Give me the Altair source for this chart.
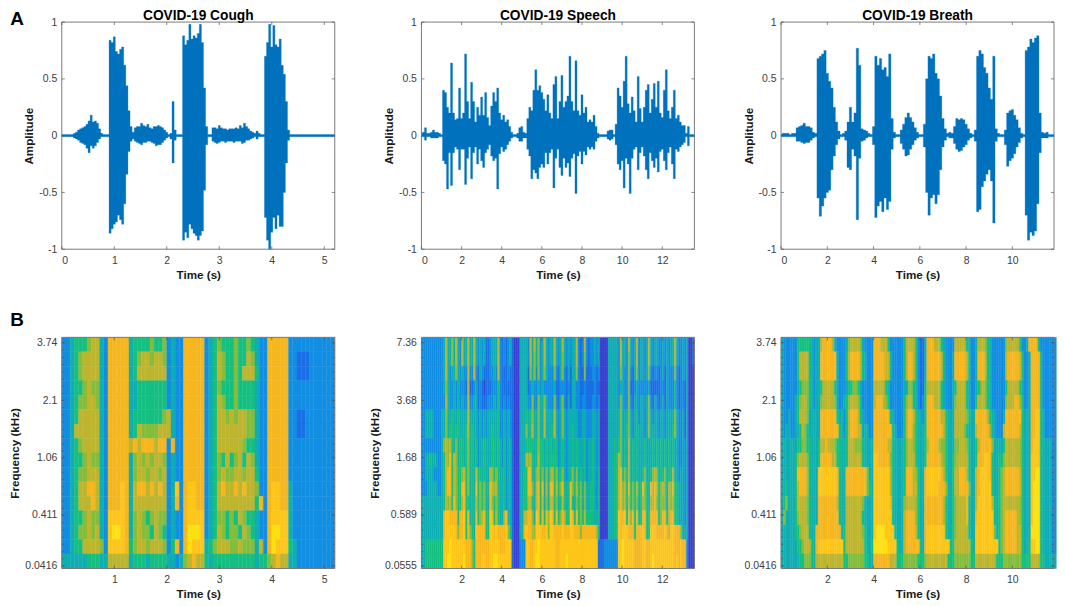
import altair as alt
import pandas as pd

FONT = "Liberation Sans"
BLUE = "#0072bd"
GREY = "#7a7a7a"

# waveform envelopes, in hundredths of full scale
cough_up = [1, 1, 1, 1, 1, 1, 2, 3, 5, 6, 7, 8, 10, 13, 18, 12, 13, 11, 6, 2, 1, 1, 1,
            84, 82, 87, 74, 72, 76, 78, 62, 44, 22, 8, 3, 7, 8, 8, 11, 9, 8, 10, 7, 6, 8, 8, 9, 8, 7, 5, 3, 1, 2, 30, 5, 1, 1, 1,
            88, 80, 84, 98, 85, 88, 86, 90, 98, 82, 42, 8, 1, 1, 7, 7, 6, 9, 7, 6, 6, 5, 6, 6, 6, 7, 6, 9, 7, 11, 8, 6, 4, 3, 2, 4, 2, 1, 1,
            70, 82, 98, 78, 97, 80, 78, 85, 62, 54, 30, 5, 1,
            1, 1, 1, 1, 1, 1, 1, 1, 1, 1, 1, 1, 1, 1, 1, 1, 1, 1, 1, 1, 1]
cough_low = [1, 1, 1, 1, 1, 1, 2, 3, 4, 6, 7, 8, 11, 15, 9, 11, 9, 6, 3, 1, 1, 1, 1,
             86, 82, 78, 76, 70, 74, 78, 60, 34, 14, 5, 3, 5, 6, 7, 8, 6, 6, 5, 5, 6, 7, 9, 8, 8, 6, 4, 2, 1, 3, 24, 4, 1, 1, 1,
             92, 85, 90, 78, 82, 86, 88, 92, 88, 84, 48, 8, 1, 1, 5, 6, 7, 6, 5, 5, 6, 5, 5, 5, 6, 5, 5, 5, 7, 6, 4, 4, 3, 2, 1, 3, 1, 1, 1,
             72, 92, 100, 85, 72, 82, 70, 80, 80, 50, 24, 4, 1,
             1, 1, 1, 1, 1, 1, 1, 1, 1, 1, 1, 1, 1, 1, 1, 1, 1, 1, 1, 1, 1]
speech_up = [2, 3, 7, 2, 2, 3, 5, 3, 3, 2, 1, 40, 38, 25, 20, 64, 20, 14, 15, 42, 15, 20, 72, 30, 15, 47, 30, 12, 25, 18,
             34, 18, 38, 16, 9, 26, 38, 30, 42, 20, 14, 18, 12, 14, 8, 3, 1, 1, 2, 7, 8, 3, 2, 15, 25, 22, 40, 58, 40, 44,
             38, 32, 22, 36, 20, 15, 45, 52, 15, 30, 53, 25, 30, 35, 70, 30, 22, 66, 22, 18, 36, 20, 25, 12, 14, 12, 18, 8, 2, 1,
             1, 1, 1, 4, 5, 5, 1, 10, 42, 35, 25, 48, 70, 28, 20, 34, 22, 12, 52, 24, 12, 25, 40, 45, 20, 32, 46, 25, 48, 20,
             16, 40, 58, 22, 15, 25, 40, 15, 18, 12, 9, 9, 2, 8, 1, 1, 1]
speech_low = [1, 1, 4, 1, 1, 2, 2, 2, 2, 1, 1, 22, 25, 47, 15, 44, 15, 10, 12, 30, 12, 12, 43, 20, 10, 38, 15, 10, 25, 12,
              22, 28, 15, 12, 8, 18, 22, 20, 47, 16, 10, 14, 12, 8, 5, 2, 1, 1, 2, 5, 5, 2, 2, 12, 18, 38, 30, 33, 38, 28,
              25, 28, 15, 25, 15, 12, 46, 20, 12, 28, 35, 20, 28, 24, 36, 20, 16, 51, 18, 14, 25, 14, 17, 10, 12, 10, 12, 5, 2, 1,
              1, 1, 1, 3, 4, 3, 1, 8, 25, 30, 22, 46, 20, 25, 51, 20, 12, 10, 30, 15, 10, 18, 30, 38, 15, 22, 28, 20, 32, 14,
              12, 22, 30, 15, 10, 25, 38, 12, 14, 10, 8, 6, 1, 9, 1, 1, 1]
breath_up = [1, 2, 2, 2, 1, 2, 2, 7, 8, 9, 11, 8, 8, 7, 3, 2, 68, 70, 72, 75, 55, 48, 42, 25, 12, 4, 1, 2, 4, 12,
             25, 12, 20, 77, 62, 6, 5, 4, 2, 1, 8, 70, 62, 68, 58, 60, 52, 72, 15, 3, 1, 1, 5, 10, 16, 20, 16, 12, 7, 3,
             1, 1, 10, 50, 70, 68, 72, 55, 50, 35, 15, 6, 2, 3, 2, 8, 15, 14, 15, 14, 10, 6, 2, 1, 5, 70, 75, 72, 60, 55,
             42, 32, 70, 6, 2, 1, 1, 5, 20, 22, 23, 18, 14, 7, 2, 1, 75, 78, 85, 82, 86, 88, 20, 3, 2, 3, 1, 1, 1]
breath_low = [1, 1, 1, 1, 1, 1, 1, 5, 5, 6, 7, 6, 6, 4, 2, 1, 55, 71, 62, 55, 50, 48, 30, 18, 8, 3, 1, 1, 4, 28,
              30, 12, 18, 74, 20, 5, 4, 2, 1, 1, 8, 72, 62, 58, 67, 55, 65, 58, 12, 2, 1, 1, 7, 12, 18, 17, 12, 8, 4, 2,
              1, 1, 10, 50, 70, 55, 52, 60, 52, 30, 10, 4, 1, 2, 2, 7, 12, 14, 13, 10, 8, 4, 2, 1, 5, 67, 65, 45, 40, 34,
              30, 40, 77, 5, 1, 1, 1, 8, 27, 22, 20, 16, 10, 6, 2, 1, 70, 92, 85, 88, 84, 60, 15, 2, 2, 2, 1, 1, 1]

# spectrogram levels, one string per frequency row from top to bottom, one digit per time step
cough_rows = [
    "2234445663 2777773444 4544523227 7777234544 4544543227 7777222222 22222",
    "2234566663 2777773456 6566523227 7777234654 4544653227 7777221112 22222",
    "2234566663 2777773466 6666623227 7777234654 4546664227 7777221112 22222",
    "2234456553 2777773344 4444423227 7777234544 4544443227 7777222222 22222",
    "2234556653 2777773344 4444423227 7777234654 4544443227 7777222222 22222",
    "2234666663 2777773444 4444563227 7777234665 6566553227 7777221122 22222",
    "2236666663 2777773465 5556663227 7777234666 6666553227 7777221122 22222",
    "2234566663 2777776767 7767727227 7777234666 6665443227 7777222222 22222",
    "2234456553 2777773565 6566523227 7777234546 4564653227 7777222222 22222",
    "2234556663 2777773566 5665623227 7777234565 5665664227 7777222222 22222",
    "2234667763 2777873677 6767623827 8877234676 6767665227 8877322222 22222",
    "2234666763 2777873666 6666623727 8877234666 6666664727 8877322222 22222",
    "2234456553 2888873565 4565523227 8888234554 5465443227 8888322222 22222",
    "2234556563 2899873565 5465423227 9998234654 5546543227 9988322222 22222",
    "2234466665 2888874566 5666524727 9888345666 5565553627 9888432222 22222",
    "3333334443 3666663444 3444433235 6766434444 4444443445 6766332222 22222",
]
speech_rows = [
    "2222222222 2363353632 6336336323 2311233362 1212310003 3332636352 3632336323 6323233621 2621223230 0003333326 3326323623 3236323322 3232336322 323001",
    "2222222222 2363353632 6336336323 2311233362 1212310003 3332635352 3632336323 5323233621 2521223230 0003333326 3325323623 3236323322 3232336322 323001",
    "2222222222 2363233532 3226226213 2111223262 1112110003 3331535252 3532225213 5213133521 1511122120 0003333325 3225213523 3235212212 3132225212 323000",
    "2222222222 2353223232 2216112312 1011122242 1111110003 3331232232 3222223112 2212133221 1211112110 0003333323 3225112322 2223111112 2132224212 213000",
    "2222222222 2263223232 3226223312 1112223242 1212110003 3332252253 3532225213 5213133221 2211122120 0003333325 3225213323 3235213212 3132224212 213000",
    "2233332222 3353343343 3336333323 2323333342 2323210003 3343453353 3633336323 5323333322 3322233230 0003333335 3335323423 3235323323 3233335322 313000",
    "2233332222 3353443443 3346343323 2323343342 2323210003 3353463353 3633346323 5323343322 3322233230 0003333335 3345323433 3235333323 3233345322 313000",
    "2222222222 3565643534 4345343423 3433344343 2423310003 3344443454 4343434423 4323343433 3423343230 0003334345 3436343433 3433343434 3434343322 323000",
    "2233433322 3465746534 4345343423 3433344343 2423310003 3365643464 4343444423 4323343433 3423343230 0003334465 3436343433 3433343434 3434343322 323000",
    "2233332222 3467746544 5645343644 3433654543 3423310003 3447743564 5353564534 5323453534 3423343240 0003334467 4546343433 4533456534 4534463323 323000",
    "2223333322 3467746544 7745343745 4534765643 3423310003 3447753674 7363774645 7434754645 3533443240 0003334467 5647454644 7543767645 6536574433 323000",
    "3333333333 3465647544 6744343645 4533754543 3423310003 3446643674 6353664534 6434743545 3533443240 0003334467 5646454534 6543667545 5536564433 323000",
    "3333333333 3788777747 7847343745 6744874643 3673310003 3667753874 7475874745 7644874745 4644443340 0003334487 7847574744 7744777745 7746774433 323000",
    "3333333333 3788888757 7847543877 7744887877 7785410003 3787765888 7785887777 8777887775 7777777640 0003334487 8887774777 8744888777 7876887775 333000",
    "3344444444 4888988888 8877754777 7777888887 7788810002 2288778898 8888888778 8888888888 8888888811 1222222288 9888887777 8877888888 8888887778 772000",
    "3344444444 4889988888 8977754777 8877889988 8888810002 2288778998 8888888778 8898888888 8888888811 1222222288 9888887777 8877898888 8888887878 772000",
]
breath_rows = [
    "3222222444 4443233677 7763222235 6666532222 7776664222 2224666642 1137776664 3222266666 4322366654 3222222566 6664223777 742222222",
    "3222222466 6643233777 7777322246 7777643222 7777766422 2224677642 1137777776 4222377777 6422377764 3222222677 7776422377 774222222",
    "3222222466 6643233777 7777322246 7777643222 7777766422 2224677642 1137777776 4222377777 6422377764 3222222677 7776422377 774222222",
    "3222222345 5543233466 6664322234 4554322222 6666643222 2223355432 1146666664 3222346666 4322345654 3222222466 6664322377 774222222",
    "3222223456 6543233566 6665322345 6665422222 6777654222 2224566432 1247776664 3222356666 4322466654 3222222566 6775422377 774222222",
    "3223223466 6533333777 7777433246 7776432222 7777777432 2224677643 3247777776 6433366666 5433777776 4332223777 7777433377 884322222",
    "3233223346 5433333777 7777743246 7776633322 7777777743 2224677543 3347777777 6433366665 4333677777 5332226777 7776433377 884322222",
    "3333333445 5443334667 6665443346 6655543333 7777776643 3334566543 3346777765 5433355666 5433467777 7533334666 6665433378 884333322",
    "3333334566 6543334777 7766443346 6666643333 8877777543 3334566643 3347777776 5433456666 6433477788 7433445666 6665433388 884333322",
    "3333334777 7643338888 8888743377 7777777533 8888888643 3334777654 3378888887 6433466777 6433678888 7433456777 7776433388 994333322",
    "3343334677 7643338888 8888743377 7777777543 8888888643 3334777664 3378888877 7533466777 7533678888 8433456777 7776433389 994333322",
    "3453334666 6543337777 7777643366 6666653333 8888888743 3335666654 3377777777 6433456666 7433688888 8643456666 6665433389 994333322",
    "3533334566 6543337777 7777743366 6666643333 8888888843 3336777754 3377777777 6433456666 7433788888 8843456777 7765433389 994333322",
    "3333334456 6643377777 7777773466 6666654333 8999988884 3336777764 3378888888 8433456666 6433888888 8853456777 7766433399 994333322",
    "3333333445 6664378888 8888888466 6666664334 9999998888 4336777777 4378888888 8884466666 6643888888 8888456777 7766433488 994333322",
    "3333333344 5554366666 6666666445 5555554433 7777777666 4445555554 4456666666 6644455555 5544666666 6664445555 5555444466 664433333",
]

level_colors = ["#3b3fd2", "#1a6fe6", "#118ee2", "#0eaeb2", "#14bf80",
                "#84bd3c", "#bdb52e", "#f6b71e", "#fdc618", "#fde010"]

amp_ticks = [-1, -0.5, 0, 0.5, 1]
row_ticks = [0.18, 3.72, 7.7, 11.65, 15.65]
minor_ticks = [0.18 + 0.4975 * k for k in range(32)]
labels_4k = "['0.0416','0.411','1.06','2.1','3.74'][round(datum.index*4)]"
labels_8k = "['0.0555','0.589','1.68','3.68','7.36'][round(datum.index*4)]"

W = 274
H_TOP = 228
H_BOT = 232


def plain_axis(values, expr="'' + datum.value"):
    return alt.Axis(values=values, labelExpr=expr, ticks=False, domain=False, grid=False)


def box(h):
    # frame of the axes
    return [alt.Chart(pd.DataFrame({"a": [0]})).mark_rect(
        fillOpacity=0, stroke=GREY, strokeWidth=1).encode(
            x=alt.value(0), x2=alt.value(W), y=alt.value(0), y2=alt.value(h))]


def text_mark(label, x, y, size, align="center"):
    return alt.Chart(pd.DataFrame({"t": [label]})).mark_text(
        font=FONT, fontSize=size, fontWeight="bold", color="black", align=align,
        baseline="alphabetic").encode(
            text="t:N", x=alt.value(x), y=alt.value(y))


def x_ticks(vals, xenc, h):
    base = alt.Chart(pd.DataFrame({"v": vals}))
    low = base.mark_rule(color="#555555", strokeWidth=0.7).encode(
        x=xenc, y=alt.value(h), y2=alt.value(h - 3))
    high = base.mark_rule(color="#555555", strokeWidth=0.7).encode(
        x=xenc, y=alt.value(0), y2=alt.value(3))
    return [low, high]


def y_ticks(vals, yenc, size=3):
    base = alt.Chart(pd.DataFrame({"v": vals}))
    left = base.mark_rule(color="#555555", strokeWidth=0.7).encode(
        y=yenc, x=alt.value(0), x2=alt.value(size))
    right = base.mark_rule(color="#555555", strokeWidth=0.7).encode(
        y=yenc, x=alt.value(W), x2=alt.value(W - size))
    return [left, right]


def wave(title, up, low, step, xmax, xvals, letter=None):
    df = pd.DataFrame({"t": [i * step for i in range(len(up))],
                       "up": [v / 100 for v in up],
                       "low": [-v / 100 for v in low]})
    xscale = alt.Scale(domain=[0, xmax], nice=False)
    yscale = alt.Scale(domain=[-1, 1], nice=False)
    xaxis = plain_axis(xvals)
    yaxis = plain_axis(amp_ticks)
    area = alt.Chart(df).mark_area(color=BLUE, stroke=BLUE, strokeWidth=0.3,
                                   interpolate="step").encode(
        x=alt.X("t:Q", title="Time (s)", scale=xscale, axis=xaxis),
        y=alt.Y("up:Q", title="Amplitude", scale=yscale, axis=yaxis),
        y2="low:Q")
    xenc = alt.X("v:Q", title="Time (s)", scale=xscale, axis=xaxis)
    yenc = alt.Y("v:Q", title="Amplitude", scale=yscale, axis=yaxis)
    layers = [area] + box(H_TOP) + x_ticks(xvals, xenc, H_TOP) + y_ticks(amp_ticks, yenc)
    layers.append(text_mark(title, W / 2, -2, 13.8))
    if letter:
        layers.append(text_mark(letter, -45, 3, 19))
    return alt.layer(*layers).properties(width=W, height=H_TOP)


def spectrogram(rows, step, xmax, xvals, freq_labels, letter=None):
    recs = []
    for r, row in enumerate(rows):
        for i, ch in enumerate(row.replace(" ", "")):
            recs.append({"t": i * step, "t2": (i + 1) * step,
                         "r": 15 - r, "r2": 16 - r, "level": int(ch)})
    df = pd.DataFrame(recs)
    color_scale = alt.Scale(domain=list(range(10)), range=level_colors)
    xscale = alt.Scale(domain=[0, xmax], nice=False)
    yscale = alt.Scale(domain=[0, 16], nice=False)
    xaxis = plain_axis(xvals)
    yaxis = plain_axis(row_ticks, freq_labels)
    cells = alt.Chart(df).mark_rect(strokeWidth=0.4).encode(
        x=alt.X("t:Q", title="Time (s)", scale=xscale, axis=xaxis),
        x2="t2:Q",
        y=alt.Y("r:Q", title="Frequency (kHz)", scale=yscale, axis=yaxis),
        y2="r2:Q",
        color=alt.Color("level:O", scale=color_scale, legend=None),
        stroke=alt.Color("level:O", scale=color_scale, legend=None))
    xenc = alt.X("v:Q", title="Time (s)", scale=xscale, axis=xaxis)
    yenc = alt.Y("v:Q", title="Frequency (kHz)", scale=yscale, axis=yaxis)
    layers = [cells] + box(H_BOT) + x_ticks(xvals, xenc, H_BOT) \
        + y_ticks(row_ticks, yenc) + y_ticks(minor_ticks, yenc, size=2)
    if letter:
        layers.append(text_mark(letter, -45, -11, 19))
    return alt.layer(*layers).properties(width=W, height=H_BOT)


chart = alt.concat(
    wave("COVID-19 Cough", cough_up, cough_low, 0.04, 5.2, [0, 1, 2, 3, 4, 5], "A"),
    wave("COVID-19 Speech", speech_up, speech_low, 0.1, 13.6, [0, 2, 4, 6, 8, 10, 12]),
    wave("COVID-19 Breath", breath_up, breath_low, 0.1, 11.8, [0, 2, 4, 6, 8, 10]),
    spectrogram(cough_rows, 0.08, 5.2, [1, 2, 3, 4, 5], labels_4k, "B"),
    spectrogram(speech_rows, 0.1, 13.6, [2, 4, 6, 8, 10, 12], labels_8k),
    spectrogram(breath_rows, 0.1, 11.8, [2, 4, 6, 8, 10], labels_4k),
    columns=3,
    spacing={"row": 29.5, "column": 33},
).properties(
    padding={"left": 1, "top": 0, "right": 0, "bottom": 0},
    background="white",
).configure_view(stroke=None).configure_axisX(
    labelPadding=6, titlePadding=4,
).configure_axisY(
    labelPadding=5, titlePadding=4,
).configure_axis(
    labelFont=FONT, labelFontSize=10.5, labelColor="#404040",
    titleFont=FONT, titleFontSize=11.7, titleFontWeight="bold", titleColor="#1a1a1a",
)

chart.save("out.html", embed_options={"renderer": "svg", "actions": False})
